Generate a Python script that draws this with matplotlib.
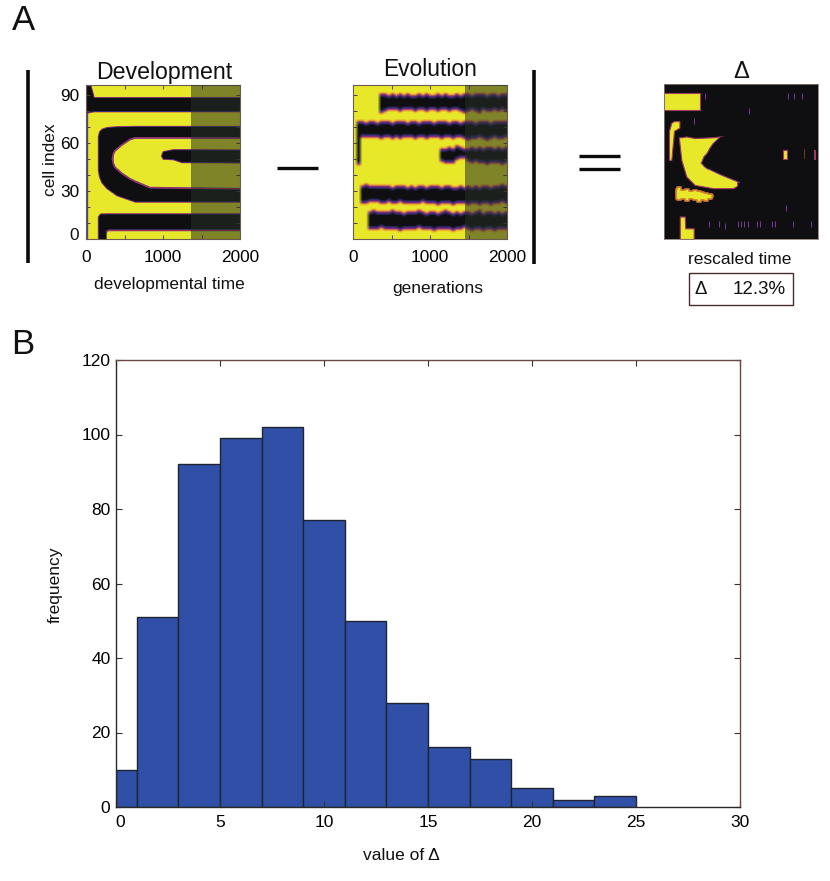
import numpy as np
import matplotlib
matplotlib.use("Agg")
import matplotlib.pyplot as plt
from matplotlib.colors import LinearSegmentedColormap
from matplotlib.lines import Line2D
from matplotlib.patches import Rectangle
from matplotlib.transforms import ScaledTranslation

plt.rcParams['font.family'] = ['Liberation Sans', 'DejaVu Sans']

W, H = 830, 881
YELLOW = '#e8e82a'
BLACK = '#0f0f12'
EDGE = '#6a5a50'

# histogram
bin_edges = [0, 1, 3, 5, 7, 9, 11, 13, 15, 17, 19, 21, 23, 25]
bin_counts = [10, 51, 92, 99, 102, 77, 50, 28, 16, 13, 5, 2, 3]

# development panel: (x, low, high) of each region
dev_top_x = [0, 52, 95, 2000]
dev_top_low = [79, 79.5, 79.9, 79.9]
dev_top_high = [96, 96, 88.2, 88.2]
dev_left_x = [0, 12]
dev_left_low = [0, 0]
dev_left_high = [80, 80]
dev_c_x = [160, 175, 205, 268, 400, 635, 2000]
dev_c_low = [43, 39, 35.5, 32, 27.5, 23.6, 23.6]
dev_c_high = [64, 67, 68.5, 69.5, 70, 70.2, 70.2]
dev_hole_x = [345, 355, 376, 462, 570, 635, 830, 2000]
dev_hole_low = [50, 47, 44.7, 41, 37.5, 36, 32, 31.3]
dev_hole_high = [50, 53, 55, 58.5, 62, 63, 63, 63]
dev_finger_x = [980, 1000, 1130, 1240, 2000]
dev_finger_low = [52, 50.3, 50, 48.2, 48]
dev_finger_high = [52, 54.5, 55.7, 55.7, 55.5]
dev_bottom_x = [160, 185, 270, 2000]
dev_bottom_low = [0, 0, 0, 0]
dev_bottom_high = [14, 15.6, 15.7, 15.7]
dev_bottom_hole_x = [268, 290, 2000]
dev_bottom_hole_low = [0, 0, 0]
dev_bottom_hole_high = [4.5, 5.4, 5.4]
dev_shade_start = 1370

# evolution panel: band cores read column by column, one value per 50 generations
evo_a_x = [350, 400, 450, 500, 550, 600, 650, 700, 750, 800, 850, 900, 950, 1000, 1050, 1100, 1150, 1200, 1250, 1300, 1350, 1400, 1450, 1500, 1550, 1600, 1650, 1700, 1750, 1800, 1850, 1900, 1950, 2000]
evo_a_low = [80, 81, 82.5, 82, 82.5, 81.5, 82, 82.5, 82, 81, 82, 82.5, 81.5, 82, 82, 81, 82, 82.5, 81.5, 82, 82.5, 81.5, 80.5, 81, 82, 81, 80.5, 82, 81.5, 81, 82, 81, 82, 81.5]
evo_a_high = [88, 87.5, 87, 87.5, 86.5, 87.5, 87, 87.5, 87, 86.5, 87.5, 87, 87.5, 87, 86.5, 87.5, 87, 87.5, 86.5, 87, 87.5, 86.5, 87.5, 88, 87, 88, 87.5, 88, 87, 88, 87.5, 87, 88, 87.5]
evo_b_x = [50, 100, 150, 200, 250, 300, 350, 400, 450, 500, 550, 600, 650, 700, 750, 800, 850, 900, 950, 1000, 1050, 1100, 1150, 1200, 1250, 1300, 1350, 1400, 1450, 1500, 1550, 1600, 1650, 1700, 1750, 1800, 1850, 1900, 1950, 2000]
evo_b_low = [64, 65, 65.5, 65, 65.5, 65, 64.5, 65, 65.5, 64.5, 65, 64.5, 65, 65.5, 65, 64.5, 65.5, 65, 64.5, 65, 65.5, 65, 64.5, 65, 65.5, 64.5, 65, 65.5, 64, 63.5, 64.5, 64, 65, 64.5, 63.5, 64, 65, 64, 64.5, 65]
evo_b_high = [71, 70.5, 70, 70.5, 71, 70, 70.5, 71, 70.5, 70, 70.5, 71, 70.5, 70, 70.5, 71, 70, 70.5, 71, 70.5, 70, 70.5, 71, 70.5, 70, 71, 70.5, 70, 71, 70.5, 71, 70, 71, 70.5, 71, 70, 70.5, 71, 70.5, 70.5]
evo_c_x = [1150, 1200, 1250, 1300, 1350, 1400, 1450, 1500, 1550, 1600, 1650, 1700, 1750, 1800, 1850, 1900, 1950, 2000]
evo_c_low = [50, 49.5, 49, 49.5, 51, 52, 52.5, 50, 49, 50, 49, 49.5, 48.5, 49, 49.5, 49, 48.5, 49]
evo_c_high = [54, 54, 54.5, 54, 55.5, 55, 54, 53.5, 54.5, 54, 55, 54, 54.5, 55, 54, 54.5, 54, 54.5]
evo_d_x = [100, 150, 200, 250, 300, 350, 400, 450, 500, 550, 600, 650, 700, 750, 800, 850, 900, 950, 1000, 1050, 1100, 1150, 1200, 1250, 1300, 1350, 1400, 1450, 1500, 1550, 1600, 1650, 1700, 1750, 1800, 1850, 1900, 1950, 2000]
evo_d_low = [24.5, 24.5, 25, 25.5, 25, 24.5, 24.5, 25, 24, 24.5, 25, 24.5, 24, 24.5, 24, 24.5, 25, 24, 24.5, 24, 23.5, 24, 24.5, 24, 23.5, 24, 24.5, 24, 23.5, 24.5, 24, 23, 24, 24.5, 23.5, 24, 24.5, 25, 24.5]
evo_d_high = [31, 31.5, 31, 30.5, 31, 30.5, 31, 30.5, 30, 30.5, 31, 30.5, 30, 30.5, 30, 30.5, 31, 30, 30.5, 31, 30.5, 30, 30.5, 31, 30, 29.5, 30.5, 30, 30.5, 30, 31, 30, 30.5, 31, 30, 30.5, 31, 31.5, 31]
evo_e_x = [200, 250, 300, 350, 400, 450, 500, 550, 600, 650, 700, 750, 800, 850, 900, 950, 1000, 1050, 1100, 1150, 1200, 1250, 1300, 1350, 1400, 1450, 1500, 1550, 1600, 1650, 1700, 1750, 1800, 1850, 1900, 1950, 2000]
evo_e_low = [8.5, 8, 8.5, 9, 8.5, 8, 8.5, 8, 7.5, 8.5, 8, 8.5, 8, 9, 8, 8.5, 8, 7.5, 8, 8.5, 8, 8.5, 7.5, 8, 8.5, 9, 8, 7.5, 8.5, 8, 7, 8.5, 8, 7.5, 8.5, 8, 8]
evo_e_high = [15, 15.5, 15, 14.5, 15, 14.5, 15.5, 15, 14.5, 14, 15, 14.5, 15, 15.5, 14.5, 14, 15, 14.5, 14, 15, 15.5, 14.5, 14, 14.5, 14, 14.5, 15, 14, 14.5, 15.5, 14, 14.5, 15, 14, 14.5, 14, 14.5]
evo_spike_x = [50]
evo_spike_low = [48]
evo_spike_high = [68]
evo_shade_start = 1457
evo_col_step = 50
# darkness of a cell 1, 2, 3 rows outside a band core
evo_fringe = [0.78, 0.5, 0.24]

# difference panel
dlt_block_x = [0, 472]
dlt_block_low = [80, 80]
dlt_block_high = [90.5, 90.5]
dlt_sliver_x = [65, 95, 130, 200]
dlt_sliver_low = [49, 49, 67, 69]
dlt_sliver_high = [67, 72, 73, 73]
dlt_cres_x = [195, 225, 290, 398, 636, 730, 896, 950]
dlt_cres_low = [62, 49, 38.7, 33.5, 31.5, 31.5, 31.5, 33]
dlt_cres_high = [63, 63, 63.5, 62.5, 63, 63.5, 64, 64]
dlt_bite_x = [485, 520, 560, 593, 636, 724, 896, 980]
dlt_bite_low = [47, 45, 43.5, 43, 42, 40, 36.6, 35]
dlt_bite_high = [47, 51, 53, 56, 59, 63, 65, 65]
dlt_streak_x = [150, 200, 250, 300, 350, 400, 450, 500, 550, 600, 640]
dlt_streak_low = [25, 24, 25, 23.5, 24.5, 24, 23, 24, 23.5, 25, 26]
dlt_streak_high = [31, 32, 30.5, 31, 30, 30.5, 30, 29, 28.5, 28, 27]
dlt_foot_x = [205, 270, 275, 385]
dlt_foot_low = [0, 0, 0, 0]
dlt_foot_high = [13.9, 13.9, 6.6, 6.6]
dlt_spot_x = [1546, 1598]
dlt_spot_low = [49.5, 49.5]
dlt_spot_high = [55.3, 55.3]
dlt_spot2_x = [1945, 1966]
dlt_spot2_low = [49.5, 49.5]
dlt_spot2_high = [55, 55]
dlt_dim_x = [1815, 1835]
dlt_dim_low = [49.5, 49.5]
dlt_dim_high = [55.5, 55.5]
dlt_flecks_x = [530, 1610, 1690, 1790, 1100, 960, 1000, 1040, 1090, 1210, 1250, 1400, 1440, 1670, 1910, 580, 710, 790, 390, 1580]
dlt_flecks_y = [88.8, 88.8, 88.8, 88.8, 79, 9.3, 9.3, 9.3, 9.3, 9.3, 9.3, 9.3, 9.3, 9.3, 9.3, 9, 9, 8, 73, 19]

heat = LinearSegmentedColormap.from_list('heat', [
    (0.0, YELLOW), (0.1, YELLOW), (0.24, '#f0a030'), (0.38, '#c8302a'),
    (0.52, '#7a2a8e'), (0.72, '#3a3a9a'), (0.9, BLACK), (1.0, BLACK)])


def fx(px):
    return px / W


def fy(py):
    return 1 - py / H


def panel(left, right, top, bottom):
    ax = fig.add_axes([fx(left), fy(bottom), (right - left) / W, (bottom - top) / H])
    ax.set_xlim(0, 2000)
    ax.set_ylim(0, 96)
    return ax


def band(ax, x, low, high):
    for lw, c in [(1.5, '#d03028'), (0.9, '#4a3ab0')]:
        ax.fill_between(x, low, high, color=c, lw=lw)
    ax.fill_between(x, low, high, color=BLACK, lw=0)


def hole(ax, x, low, high, stroke_low=True):
    ax.fill_between(x, low, high, facecolor=YELLOW, edgecolor='none')
    for lw, c in [(1.3, '#4a3ab0'), (0.6, '#d03028')]:
        if stroke_low:
            ax.plot(x, low, color=c, lw=lw)
        ax.plot(x, high, color=c, lw=lw)


def style_panel(ax):
    for s in ax.spines.values():
        s.set_color(EDGE)
        s.set_linewidth(0.8)
    ax.set_xticks(np.arange(0, 2001, 500))
    ax.set_xticklabels(['0', '', '1000', '', '2000'])
    ax.set_yticks(np.arange(0, 91, 10))
    ax.tick_params(direction='in', length=3, width=0.7, color='#444444', top=True, right=True, labelsize=12.4, pad=5)
    ax.tick_params(axis='x', pad=8)


def shade(ax, start):
    ax.axvspan(start, 2000, facecolor=(40 / 255, 48 / 255, 40 / 255), alpha=0.54, lw=0, zorder=5)


fig = plt.figure(figsize=(W / 100, H / 100), dpi=100)

# Development
ax1 = panel(86, 240, 85, 239)
ax1.set_facecolor(YELLOW)
band(ax1, dev_left_x, dev_left_low, dev_left_high)
band(ax1, dev_top_x, dev_top_low, dev_top_high)
band(ax1, dev_c_x, dev_c_low, dev_c_high)
hole(ax1, dev_hole_x, dev_hole_low, dev_hole_high)
band(ax1, dev_finger_x, dev_finger_low, dev_finger_high)
band(ax1, dev_bottom_x, dev_bottom_low, dev_bottom_high)
hole(ax1, dev_bottom_hole_x, dev_bottom_hole_low, dev_bottom_hole_high, stroke_low=False)
ax1.set_xlim(0, 2000)
ax1.set_ylim(0, 96)
shade(ax1, dev_shade_start)
style_panel(ax1)
ax1.set_yticklabels(['', '', '', '30', '', '', '60', '', '', '90'])

# Evolution, a cell-by-time matrix
ax2 = panel(353, 507, 85, 239)
rows = np.arange(0.5, 96)
evo = np.zeros((len(rows), 2000 // evo_col_step + 1))
for xs, lows, highs in [(evo_a_x, evo_a_low, evo_a_high), (evo_b_x, evo_b_low, evo_b_high),
                        (evo_c_x, evo_c_low, evo_c_high), (evo_d_x, evo_d_low, evo_d_high),
                        (evo_e_x, evo_e_low, evo_e_high), (evo_spike_x, evo_spike_low, evo_spike_high)]:
    for x, lo, hi in zip(xs, lows, highs):
        col = x // evo_col_step
        for i, r in enumerate(rows):
            dist = int(np.ceil(max(lo - r, r - hi, 0)))
            if dist == 0:
                evo[i, col] = 1.0
            elif dist <= len(evo_fringe):
                evo[i, col] = max(evo[i, col], evo_fringe[dist - 1])
ax2.imshow(evo, origin='lower', extent=(0, 2000, 0, 96), aspect='auto', cmap=heat,
           vmin=0, vmax=1, interpolation='bilinear')
ax2.set_xlim(0, 2000)
ax2.set_ylim(0, 96)
shade(ax2, evo_shade_start)
style_panel(ax2)
ax2.set_yticklabels([])

# Difference
ax3 = panel(664, 818, 84, 239)
ax3.set_facecolor(BLACK)
for x, lo, hi in [(dlt_block_x, dlt_block_low, dlt_block_high),
                  (dlt_sliver_x, dlt_sliver_low, dlt_sliver_high),
                  (dlt_cres_x, dlt_cres_low, dlt_cres_high),
                  (dlt_foot_x, dlt_foot_low, dlt_foot_high),
                  (dlt_spot_x, dlt_spot_low, dlt_spot_high),
                  (dlt_spot2_x, dlt_spot2_low, dlt_spot2_high)]:
    ax3.fill_between(x, lo, hi, facecolor=YELLOW, edgecolor='#a03a60', lw=0.8)
ax3.fill_between(dlt_bite_x, dlt_bite_low, dlt_bite_high, facecolor=BLACK, edgecolor='none')
ax3.plot(dlt_bite_x[:6], dlt_bite_high[:6], color='#8a3a80', lw=0.8)
ax3.plot(dlt_bite_x, dlt_bite_low, color='#8a3a80', lw=0.8)
ax3.fill_between(dlt_streak_x, dlt_streak_low, dlt_streak_high, facecolor=YELLOW, edgecolor='#d07a30', lw=1.2, step='mid')
ax3.fill_between(dlt_dim_x, dlt_dim_low, dlt_dim_high, facecolor='#6a3a20', lw=0)
ax3.scatter(dlt_flecks_x, dlt_flecks_y, marker='|', s=14, lw=0.7, color='#7a3a9a')
ax3.set_xlim(0, 2000)
ax3.set_ylim(0, 96)
ax3.set_xticks([])
ax3.set_yticks([])
for s in ax3.spines.values():
    s.set_color('#8a7a70')
    s.set_linewidth(0.6)

# Histogram
ax4 = fig.add_axes([fx(116), fy(807), (740 - 116) / W, (807 - 360) / H])
ax4.bar(bin_edges[:-1], bin_counts, width=np.diff(bin_edges), align='edge',
        color='#3050a8', edgecolor='#1e2430', linewidth=1.0)
ax4.set_xlim(0, 30)
ax4.set_ylim(0, 120)
ax4.set_xticks(np.arange(0, 31, 5))
ax4.set_yticks(np.arange(0, 121, 20))
ax4.tick_params(direction='in', length=4.3, width=0.8, color='#333333', top=True, right=True, labelsize=12.5)
ax4.tick_params(axis='x', pad=6)
ax4.tick_params(axis='y', pad=4)
for s in ax4.spines.values():
    s.set_color('#2a2a2a')
    s.set_linewidth(1.0)
ax4.spines['top'].set_color('#6a4a40')
ax4.spines['right'].set_color('#6a4a40')
zero = ax4.get_xticklabels()[0]
zero.set_transform(zero.get_transform() + ScaledTranslation(4 / 100, 0, fig.dpi_scale_trans))


def label(px, py, s, size=12.5, **kw):
    fig.text(fx(px), fy(py), s, fontsize=size, ha=kw.pop('ha', 'center'), va='center', color='#111111', **kw)


label(23, 21, 'A', 25)
label(23, 345, 'B', 25)
label(164, 72, 'Development', 16.7)
label(430, 69, 'Evolution', 16.4)
label(741, 72, 'Δ', 17)
label(79, 235, '0', 12.4, ha='right')
label(50, 160, 'cell index', 12.5, rotation=90)
label(169, 285, 'developmental time')
label(438, 289, 'generations')
label(740, 259, 'rescaled time')
label(701, 290, 'Δ', 13.5)
label(759, 290, '12.3%', 13.5)
label(401, 855, 'value of Δ', 12.5)
label(55, 585, 'frequency', 12.5, rotation=90)

# separators and operators
for x0, y0, x1, y1, lw in [(28, 70, 28, 263, 2.6), (534, 70, 534, 264, 2.6),
                           (277, 168, 318, 168, 2.4), (579, 156, 620, 156, 2.4),
                           (579, 169, 620, 169, 2.4)]:
    fig.add_artist(Line2D([fx(x0), fx(x1)], [fy(y0), fy(y1)], color='#0a0a0a', lw=lw, solid_capstyle='butt'))

fig.add_artist(Rectangle((fx(689), fy(305)), 104 / W, 32 / H, transform=fig.transFigure,
                         fill=False, edgecolor='#4a2a2a', lw=1.0))

fig.savefig('out.png', dpi=100)
